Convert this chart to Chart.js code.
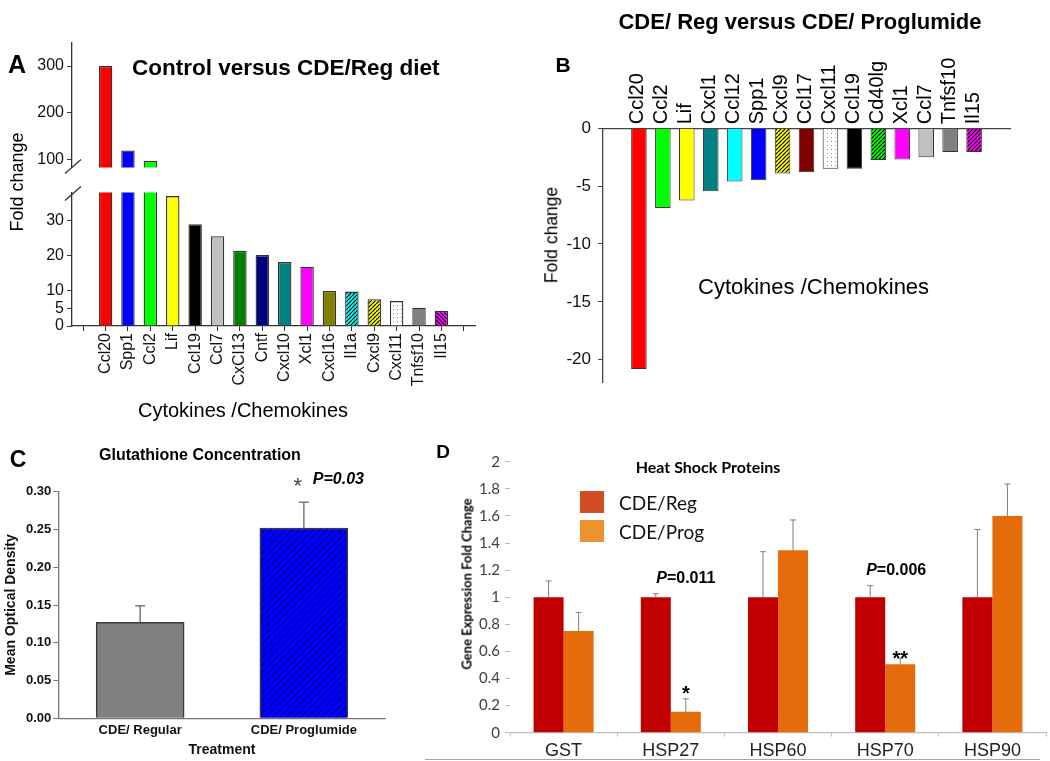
<!DOCTYPE html>
<html>
<head>
<meta charset="utf-8">
<title>Cytokines, glutathione and heat shock proteins</title>
<script src="https://cdn.jsdelivr.net/npm/chart.js@4.4.1/dist/chart.umd.min.js"></script>
<style>
  html, body { margin: 0; padding: 0; background: #fff; }
  #page { position: relative; width: 1050px; height: 761px; overflow: hidden;
          font-family: "Liberation Sans", Arial, sans-serif; color: #000; }
  #page canvas { position: absolute; }
  .t { position: absolute; white-space: nowrap; line-height: 1; transform: translate(-50%, -50%); }
  .v { transform: translate(-50%, -50%) rotate(-90deg); }
  .l { position: absolute; white-space: nowrap; line-height: 1; transform: translateY(-50%); }
  .key { position: absolute; width: 24px; height: 22px; }
</style>
</head>
<body>
<div id="page">
  <canvas id="chartA1" width="490" height="150" style="left:0;top:30px"></canvas>
  <canvas id="chartA2" width="490" height="245" style="left:0;top:180px"></canvas>
  <canvas id="chartB" width="500" height="400" style="left:530px;top:0"></canvas>
  <canvas id="chartC" width="400" height="331" style="left:0;top:430px"></canvas>
  <canvas id="chartD" width="650" height="331" style="left:400px;top:430px"></canvas>

  <div class="t" style="left:17px;top:64px;font-size:25px;font-weight:bold">A</div>
  <div class="l" style="left:132px;top:68px;font-size:22.5px;font-weight:bold">Control versus CDE/Reg diet</div>
  <div class="t v" style="left:17px;top:182px;font-size:18px">Fold change</div>
  <div class="t" style="left:243px;top:410px;font-size:20px">Cytokines /Chemokines</div>

  <div class="t" style="left:563px;top:64px;font-size:21px;font-weight:bold">B</div>
  <div class="t" style="left:800px;top:22px;font-size:22px;font-weight:bold">CDE/ Reg versus CDE/ Proglumide</div>
  <div class="t v" style="left:552px;top:235px;font-size:17.5px">Fold change</div>
  <div class="l" style="left:698px;top:287px;font-size:22px">Cytokines /Chemokines</div>

  <div class="t" style="left:18px;top:459px;font-size:23px;font-weight:bold">C</div>
  <div class="t" style="left:200px;top:455px;font-size:16px;font-weight:bold">Glutathione Concentration</div>

  <div class="t" style="left:443px;top:451px;font-size:19px;font-weight:bold">D</div>
  <div class="t" style="left:708px;top:467px;font-family:Lato;font-size:16px;font-weight:bold">Heat Shock Proteins</div>
  <div class="t v" style="left:467px;top:584px;font-family:Lato;font-size:13px;font-weight:bold">Gene Expression Fold Change</div>
  <div class="key" style="left:580px;top:491px;background:#D24A26"></div>
  <div class="l" id="keyReg" style="left:619px;top:502px;font-family:Lato;font-size:19px;color:#111"></div>
  <div class="key" style="left:580px;top:520px;background:#EE9332"></div>
  <div class="l" id="keyProg" style="left:619px;top:531px;font-family:Lato;font-size:19px;color:#111"></div>
  <div style="position:absolute;left:425px;top:759px;width:615px;border-top:1.5px solid #a6a6a6"></div>
</div>

<script>
// Panel A: control versus CDE/Reg diet (broken axis)
const genesA = ['Ccl20', 'Spp1', 'Ccl2', 'Lif', 'Ccl19', 'Ccl7', 'CxCl13', 'Cntf',
                'Cxcl10', 'Xcl1', 'Cxcl16', 'Il1a', 'Cxcl9', 'Cxcl11', 'Tnfsf10', 'Il15'];
const foldA = [300, 120, 98, 37, 29, 25.6, 21.4, 20.2, 18.2, 16.9, 10, 9.8, 7.6, 7.1, 5.2, 4.3];
const ticksAUpper = [100, 200, 300];
const ticksALower = [0, 5, 10, 20, 30];

// Panel B: CDE/Reg versus CDE/Proglumide
const genesB = ['Ccl20', 'Ccl2', 'Lif', 'Cxcl1', 'Ccl12', 'Spp1', 'Cxcl9', 'Ccl17',
                'Cxcl11', 'Ccl19', 'Cd40lg', 'Xcl1', 'Ccl7', 'Tnfsf10', 'Il15'];
const foldB = [-20.8, -6.9, -6.25, -5.45, -4.6, -4.5, -3.9, -3.8, -3.5, -3.5, -2.75, -2.7, -2.5, -2.05, -2.05];

// Panel C: glutathione
const groupsC = ['CDE/ Regular', 'CDE/ Proglumide'];
const densityC = [0.127, 0.252];
const densityErrC = [0.022, 0.034];

// Panel D: heat shock proteins
const genesD = ['GST', 'HSP27', 'HSP60', 'HSP70', 'HSP90'];
const seriesD = ['CDE/Reg', 'CDE/Prog'];
const regD = [1, 1, 1, 1, 1];
const regErrD = [0.12, 0.026, 0.336, 0.085, 0.5];
const progD = [0.75, 0.155, 1.346, 0.505, 1.6];
const progErrD = [0.138, 0.095, 0.224, 0.045, 0.235];

const LS = '"Liberation Sans", Arial, sans-serif';
Chart.defaults.font.family = LS;
Chart.defaults.color = '#000';
Chart.defaults.animation = false;
Chart.defaults.responsive = false;
Chart.defaults.events = [];
Chart.defaults.plugins.legend.display = false;
Chart.defaults.plugins.tooltip.enabled = false;

document.getElementById('keyReg').textContent = seriesD[0];
document.getElementById('keyProg').textContent = seriesD[1];

function hatch(bg, fg, size, flip, lw) {
  const c = document.createElement('canvas');
  c.width = c.height = size;
  const g = c.getContext('2d');
  g.fillStyle = bg;
  g.fillRect(0, 0, size, size);
  g.strokeStyle = fg;
  g.lineWidth = lw || 1.2;
  g.beginPath();
  for (const o of [-size, 0, size]) {
    if (flip) { g.moveTo(o, 0); g.lineTo(o + size, size); }
    else { g.moveTo(o, size); g.lineTo(o + size, 0); }
  }
  g.stroke();
  return g.createPattern(c, 'repeat');
}

function dots() {
  const c = document.createElement('canvas');
  c.width = c.height = 4;
  const g = c.getContext('2d');
  g.fillStyle = '#fff';
  g.fillRect(0, 0, 4, 4);
  g.fillStyle = '#9a9a9a';
  g.fillRect(1, 1, 1, 1);
  return g.createPattern(c, 'repeat');
}

const fillsA = ['#FF0000', '#0000FF', '#00FF00', '#FFFF00', '#000000', '#C0C0C0', '#008000', '#000080',
                '#008080', '#FF00FF', '#808000', hatch('#00FFFF', '#000', 4), hatch('#FFFF00', '#000', 4),
                dots(), '#808080', hatch('#FF00FF', '#000', 4, true)];
const fillsB = ['#FF0000', '#00FF00', '#FFFF00', '#008080', '#00FFFF', '#0000FF', hatch('#FFFF00', '#000', 4),
                '#800000', dots(), '#000000', hatch('#00FF00', '#000', 4), '#FF00FF', '#C0C0C0', '#808080',
                hatch('#FF00FF', '#000', 4)];

// pad one empty slot each side of the category axis
const pad = arr => [null, ...arr, null];

function breakMark(edge) {
  return {
    id: 'breakMark',
    afterDraw(chart) {
      const { ctx, chartArea: a } = chart;
      const y0 = edge === 'bottom' ? a.bottom + 6 : a.top + 8;
      ctx.save();
      ctx.strokeStyle = '#333';
      ctx.lineWidth = 1.3;
      ctx.beginPath();
      ctx.moveTo(a.left - 7, y0);
      ctx.lineTo(a.left + 9, y0 - 14);
      ctx.stroke();
      ctx.restore();
    }
  };
}

function errorBars(color, width, cap) {
  return {
    id: 'errorBars',
    afterDatasetsDraw(chart) {
      const ctx = chart.ctx, ys = chart.scales.y;
      chart.data.datasets.forEach((ds, di) => {
        if (!ds.errors) return;
        chart.getDatasetMeta(di).data.forEach((bar, i) => {
          const top = ys.getPixelForValue(ds.data[i] + ds.errors[i]);
          ctx.save();
          ctx.strokeStyle = color;
          ctx.lineWidth = width;
          ctx.beginPath();
          ctx.moveTo(bar.x, bar.y);
          ctx.lineTo(bar.x, top);
          ctx.moveTo(bar.x - cap, top);
          ctx.lineTo(bar.x + cap, top);
          ctx.stroke();
          ctx.restore();
        });
      });
    }
  };
}

function notes(list) {
  return {
    id: 'notes',
    afterDatasetsDraw(chart) {
      const ctx = chart.ctx, ys = chart.scales.y;
      list.forEach(n => {
        const bar = chart.getDatasetMeta(n.ds).data[n.idx];
        const y = ys.getPixelForValue(n.value);
        ctx.save();
        ctx.textBaseline = 'middle';
        ctx.textAlign = 'left';
        ctx.fillStyle = n.color || '#000';
        const widths = n.parts.map(p => { ctx.font = p.font; return ctx.measureText(p.text).width; });
        const total = widths.reduce((s, w) => s + w, 0);
        let x = bar.x + (n.dx || 0) - (n.left ? 0 : total / 2);
        n.parts.forEach((p, k) => {
          ctx.font = p.font;
          ctx.fillText(p.text, x, y);
          x += widths[k];
        });
        ctx.restore();
      });
    }
  };
}

// ---- Panel A, upper part ----
new Chart(document.getElementById('chartA1'), {
  type: 'bar',
  data: {
    labels: ['', ...genesA, ''],
    datasets: [{
      data: pad(foldA), backgroundColor: pad(fillsA), borderColor: '#333', borderWidth: 1.3,
      barPercentage: 0.6, categoryPercentage: 1, clip: 0
    }]
  },
  options: {
    layout: { padding: { left: 0, top: 8, right: 15, bottom: 6 } },
    scales: {
      x: { display: false, offset: true },
      y: {
        min: 84, max: 350,
        afterBuildTicks: s => { s.ticks = ticksAUpper.map(v => ({ value: v })); },
        afterFit: s => { s.width = 72; },
        grid: { drawOnChartArea: false, tickLength: 5, color: '#333' },
        border: { color: '#333', width: 1.3 },
        ticks: { font: { size: 16 }, color: '#111', padding: 3 }
      }
    }
  },
  plugins: [breakMark('bottom')]
});

// ---- Panel A, lower part ----
new Chart(document.getElementById('chartA2'), {
  type: 'bar',
  data: {
    labels: ['', ...genesA, ''],
    datasets: [{
      data: pad(foldA), backgroundColor: pad(fillsA), borderColor: '#333', borderWidth: 1.3,
      barPercentage: 0.6, categoryPercentage: 1, clip: 0
    }]
  },
  options: {
    layout: { padding: { left: 0, top: 10, right: 15, bottom: 0 } },
    scales: {
      x: {
        offset: true,
        afterFit: s => { s.height = 99; },
        grid: { drawOnChartArea: false, offset: false, tickLength: 5, color: '#333' },
        border: { color: '#333', width: 1.3 },
        ticks: { minRotation: 90, maxRotation: 90, autoSkip: false, font: { size: 16 }, color: '#111', padding: 2 }
      },
      y: {
        min: 0, max: 38,
        afterBuildTicks: s => { s.ticks = ticksALower.map(v => ({ value: v })); },
        afterFit: s => { s.width = 72; },
        grid: { drawOnChartArea: false, tickLength: 5, color: '#333' },
        border: { color: '#333', width: 1.3 },
        ticks: { font: { size: 16 }, color: '#111', padding: 3 }
      }
    }
  },
  plugins: [breakMark('top')]
});

// ---- Panel B ----
new Chart(document.getElementById('chartB'), {
  type: 'bar',
  data: {
    labels: ['', ...genesB, ''],
    datasets: [{
      data: pad(foldB), backgroundColor: pad(fillsB), borderColor: '#333', borderWidth: 1,
      barPercentage: 0.65, categoryPercentage: 1
    }]
  },
  options: {
    layout: { padding: { left: 0, top: 38.3, right: 20, bottom: 16 } },
    scales: {
      x: {
        position: 'top', offset: true,
        afterFit: s => { s.height = 90; },
        grid: { display: false, drawTicks: false },
        border: { color: '#444', width: 1.3 },
        // rotated labels on a top axis sit one line-height left of the tick; push them back
        ticks: { minRotation: 90, maxRotation: 90, autoSkip: false, labelOffset: 23,
                 font: { size: 20 }, color: '#000', padding: 4 }
      },
      y: {
        min: -22, max: 0,
        afterBuildTicks: s => { s.ticks = s.ticks.filter(t => t.value % 5 === 0); },
        afterFit: s => { s.width = 73; },
        grid: { drawOnChartArea: false, tickLength: 5, color: '#444' },
        border: { color: '#444', width: 1.3 },
        ticks: { stepSize: 5, font: { size: 17 }, color: '#111', padding: 7 }
      }
    }
  }
});

// ---- Panel C ----
new Chart(document.getElementById('chartC'), {
  type: 'bar',
  data: {
    labels: groupsC,
    datasets: [{
      data: densityC, errors: densityErrC,
      backgroundColor: ['#808080', hatch('#0000FF', '#000050', 7, false, 1)],
      borderColor: '#3a3a3a', borderWidth: 1.5, barThickness: 88
    }]
  },
  options: {
    layout: { padding: { left: 0, top: 61.7, right: 14.3, bottom: 0 } },
    scales: {
      x: {
        offset: true,
        afterFit: s => { s.height = 42.7; },
        grid: { display: false, drawTicks: false },
        border: { color: '#777', width: 1.3 },
        ticks: { font: { size: 13, weight: 'bold' }, color: '#111', padding: 4 },
        title: { display: true, text: 'Treatment', font: { size: 14, weight: 'bold' }, color: '#111',
                 padding: { top: 0, bottom: 2 } }
      },
      y: {
        min: 0, max: 0.3,
        afterFit: s => { s.width = 58.3; },
        grid: { drawOnChartArea: false, tickLength: 5, color: '#777' },
        border: { color: '#777', width: 1.3 },
        ticks: { stepSize: 0.05, callback: v => v.toFixed(2), font: { size: 13, weight: 'bold' }, color: '#111', padding: 2 },
        title: { display: true, text: 'Mean Optical Density', font: { size: 14, weight: 'bold' }, color: '#111',
                 padding: { top: 3 } }
      }
    }
  },
  plugins: [
    errorBars('#7a7a7a', 1.5, 5),
    notes([
      { ds: 0, idx: 1, value: 0.3067, dx: -6, color: '#444', parts: [{ text: '*', font: '22px ' + LS }] },
      { ds: 0, idx: 1, value: 0.3154, dx: 9, left: true,
        parts: [{ text: 'P=0.03', font: 'italic bold 16px ' + LS }] }
    ])
  ]
});

// ---- Panel D ----
new Chart(document.getElementById('chartD'), {
  type: 'bar',
  data: {
    labels: genesD,
    datasets: [
      { label: seriesD[0], data: regD, errors: regErrD, backgroundColor: '#C00000',
        barPercentage: 1, categoryPercentage: 0.56 },
      { label: seriesD[1], data: progD, errors: progErrD, backgroundColor: '#E46C0A',
        barPercentage: 1, categoryPercentage: 0.56 }
    ]
  },
  options: {
    layout: { padding: { left: 0, top: 31.7, right: 4, bottom: 0 } },
    scales: {
      x: {
        afterFit: s => { s.height = 28.3; },
        grid: { drawOnChartArea: false, tickLength: 4, color: '#bfbfbf' },
        border: { color: '#bfbfbf', width: 1.3 },
        ticks: { font: { size: 18 }, color: '#222', padding: 4 }
      },
      y: {
        min: 0, max: 2,
        afterFit: s => { s.width = 110; },
        grid: { drawOnChartArea: false, tickLength: 5, color: '#bfbfbf' },
        border: { display: false },
        ticks: { stepSize: 0.2, callback: v => String(+v.toFixed(1)),
                 font: { family: 'Lato', size: 15 }, color: '#404040', padding: 5 }
      }
    }
  },
  plugins: [
    errorBars('#7f7f7f', 1, 3),
    notes([
      { ds: 1, idx: 1, value: 1.134,
        parts: [{ text: 'P', font: 'italic bold 16px ' + LS }, { text: '=0.011', font: 'bold 16px ' + LS }] },
      { ds: 1, idx: 1, value: 0.283, parts: [{ text: '*', font: 'bold 20px ' + LS }] },
      { ds: 1, idx: 3, value: 1.196, dx: -4,
        parts: [{ text: 'P', font: 'italic bold 16px ' + LS }, { text: '=0.006', font: 'bold 16px ' + LS }] },
      { ds: 1, idx: 3, value: 0.542, parts: [{ text: '**', font: 'bold 20px ' + LS }] }
    ])
  ]
});
</script>
</body>
</html>
